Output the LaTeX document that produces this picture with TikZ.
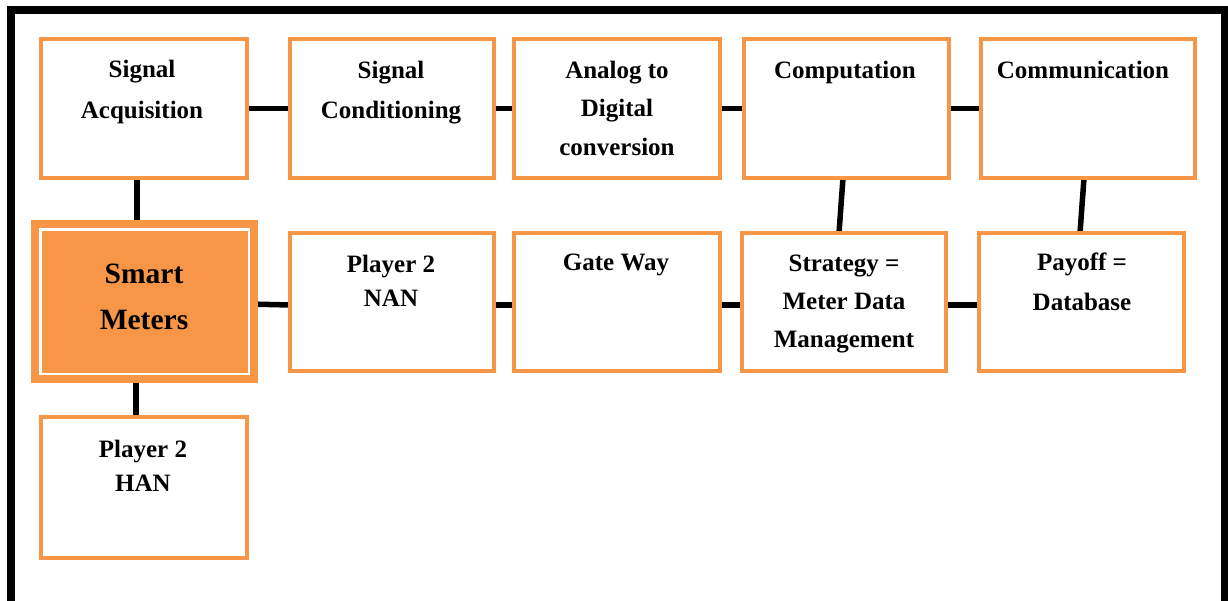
\documentclass[tikz,border=0pt]{standalone}
\usepackage{fontspec}
\setmainfont{Liberation Serif}
\usetikzlibrary{backgrounds}
\definecolor{accorange}{HTML}{F79646}
\tikzset{
  stagebox/.style={draw=accorange, line width=4.5pt, fill=white, inner sep=0pt, outer sep=0pt},
  smartbox/.style={draw=accorange, line width=8pt, double=white, double distance=2.5pt, fill=accorange, inner sep=0pt, outer sep=0pt, minimum width=208.5pt, minimum height=144.5pt},
  boxtext/.style={anchor=base, align=center, inner sep=0pt, font=\bfseries\fontsize{25}{39.5}\selectfont},
  link/.style={draw=black, line width=5.5pt},
  frameline/.style={draw=black, line width=8pt}
}
\begin{document}
\begin{tikzpicture}[x=1pt, y=-1pt]
\useasboundingbox (0,0) rectangle (1228,600);
\begin{scope}
  \clip (0,0) rectangle (1228,600);
  \draw[frameline] (11,10) rectangle (1224.5,630);
\end{scope}
% top row
\node[stagebox, minimum width=206pt, minimum height=139pt] (acq) at (144,108.5) {};
\node[stagebox, minimum width=204pt, minimum height=139pt] (cond) at (392,108.5) {};
\node[stagebox, minimum width=206pt, minimum height=139pt] (adc) at (617,108.5) {};
\node[stagebox, minimum width=205pt, minimum height=139pt] (comp) at (846.5,108.5) {};
\node[stagebox, minimum width=214pt, minimum height=139pt] (comm) at (1088,108.5) {};
% second row
\node[smartbox] (sm) at (144.5,301.5) {};
\node[stagebox, minimum width=204pt, minimum height=138pt] (nan) at (392,302) {};
\node[stagebox, minimum width=206pt, minimum height=138pt] (gw) at (617,302) {};
\node[stagebox, minimum width=204pt, minimum height=138pt] (strat) at (844,302) {};
\node[stagebox, minimum width=205pt, minimum height=138pt] (pay) at (1081.5,302) {};
% third row
\node[stagebox, minimum width=206pt, minimum height=141pt] (han) at (144,487.5) {};
% texts (anchored at the baseline of the last line)
\node[boxtext, font=\bfseries\fontsize{25}{41}\selectfont] (tacq) at (142,118) {Signal\\Acquisition};
\node[boxtext, font=\bfseries\fontsize{25}{40}\selectfont] (tcond) at (391,118) {Signal\\Conditioning};
\node[boxtext, font=\bfseries\fontsize{25}{38.5}\selectfont] (tadc) at (617,155) {Analog to\\Digital\\conversion};
\node[boxtext] (tcomp) at (845,78) {Computation};
\node[boxtext] (tcomm) at (1083,78) {Communication};
\node[boxtext, font=\bfseries\fontsize{29.5}{46}\selectfont] (tsm) at (144,329) {Smart\\Meters};
\node[boxtext, font=\bfseries\fontsize{25}{34}\selectfont] (tnan) at (391,306) {Player 2\\NAN};
\node[boxtext] (tgw) at (616,270) {Gate Way};
\node[boxtext, font=\bfseries\fontsize{25}{38}\selectfont] (tstrat) at (844,347) {Strategy =\\Meter Data\\Management};
\node[boxtext] (tpay) at (1082,310) {Payoff =\\Database};
\node[boxtext, font=\bfseries\fontsize{25}{34}\selectfont] (than) at (143,491) {Player 2\\HAN};
% connectors
\begin{scope}[on background layer]
\draw[link] (acq.east) -- (cond.west);
\draw[link] (cond.east) -- (adc.west);
\draw[link] (adc.east) -- (comp.west);
\draw[link] (comp.east) -- (comm.west);
\draw[link] ([yshift=-2.5pt]sm.east) -- ([yshift=-3pt]nan.west);
\draw[link] ([yshift=-3pt]nan.east) -- ([yshift=-3pt]gw.west);
\draw[link] ([yshift=-3pt]gw.east) -- ([yshift=-3pt]strat.west);
\draw[link] ([yshift=-3pt]strat.east) -- ([yshift=-3pt]pay.west);
\draw[link] ([xshift=-7pt]acq.south) -- ([xshift=-7.5pt]sm.north);
\draw[link] ([xshift=-8.5pt]sm.south) -- ([xshift=-8pt]han.north);
\draw[link] ([xshift=-3.5pt]comp.south) -- ([xshift=-5pt]strat.north);
\draw[link] ([xshift=-4pt]comm.south) -- ([xshift=-1.5pt]pay.north);
\end{scope}
\end{tikzpicture}
\end{document}
